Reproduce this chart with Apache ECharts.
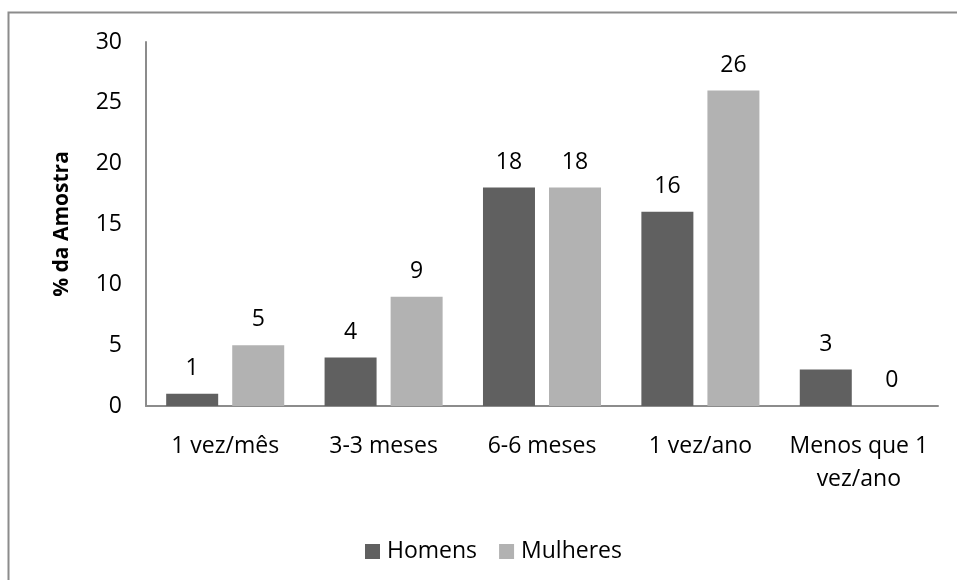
<!DOCTYPE html>
<html>
<head>
<meta charset="utf-8">
<script src="https://cdn.jsdelivr.net/npm/echarts@6/dist/echarts.min.js"></script>
<style>
  html, body { margin: 0; padding: 0; background: #fff; }
  #chart { width: 957px; height: 580px; }
</style>
</head>
<body>
<div id="chart"></div>
<script>
// Frequency categories and shares of the sample (%) by sex
const categories = ['1 vez/mês', '3-3 meses', '6-6 meses', '1 vez/ano', 'Menos que 1\nvez/ano'];
const homens = [1, 4, 18, 16, 3];
const mulheres = [5, 9, 18, 26, 0];
const yTicks = { min: 0, max: 30, interval: 5 };

const font = '"Open Sans", "Noto Sans", sans-serif';
const fontSize = 23;
const textColor = '#000';
const axisColor = '#8c8c8c';

const chart = echarts.init(document.getElementById('chart'), null, { renderer: 'canvas' });

const labelStyle = {
  show: true,
  position: 'top',
  distance: 14,
  color: textColor,
  fontFamily: font,
  fontSize: fontSize
};

chart.setOption({
  animation: false,
  backgroundColor: '#fff',
  graphic: [{
    type: 'rect',
    shape: { x: 8.5, y: 12.5, width: 1000, height: 1000 },
    style: { fill: 'none', stroke: '#8c8c8c', lineWidth: 2 },
    silent: true
  }],
  grid: { left: 146, right: 19, top: 42, bottom: 174, containLabel: false },
  legend: {
    top: 535,
    left: 360,
    itemWidth: 15,
    itemHeight: 15,
    itemGap: 22,
    icon: 'rect',
    textStyle: { fontFamily: font, fontSize: fontSize, color: textColor, padding: [0, 0, 0, 2] },
    data: ['Homens', 'Mulheres']
  },
  xAxis: {
    type: 'category',
    data: categories,
    axisLine: { show: true, lineStyle: { color: axisColor, width: 2 } },
    axisTick: { show: false },
    axisLabel: {
      color: textColor,
      fontFamily: font,
      fontSize: fontSize,
      margin: 24,
      lineHeight: 33,
      interval: 0
    }
  },
  yAxis: {
    type: 'value',
    min: yTicks.min,
    max: yTicks.max,
    interval: yTicks.interval,
    name: '% da Amostra',
    nameLocation: 'middle',
    nameGap: 73,
    nameRotate: 90,
    nameTextStyle: { fontFamily: font, fontSize: 21, fontWeight: 'bold', color: textColor },
    axisLine: { show: true, lineStyle: { color: axisColor, width: 2 } },
    axisTick: { show: false },
    splitLine: { show: false },
    axisLabel: { color: textColor, fontFamily: font, fontSize: fontSize, margin: 24 }
  },
  series: [
    {
      name: 'Homens',
      type: 'bar',
      data: homens,
      barWidth: 52,
      barGap: '27%',
      itemStyle: { color: '#606060' },
      label: labelStyle
    },
    {
      name: 'Mulheres',
      type: 'bar',
      data: mulheres,
      barWidth: 52,
      itemStyle: { color: '#b2b2b2' },
      label: labelStyle
    }
  ]
});
</script>
</body>
</html>
